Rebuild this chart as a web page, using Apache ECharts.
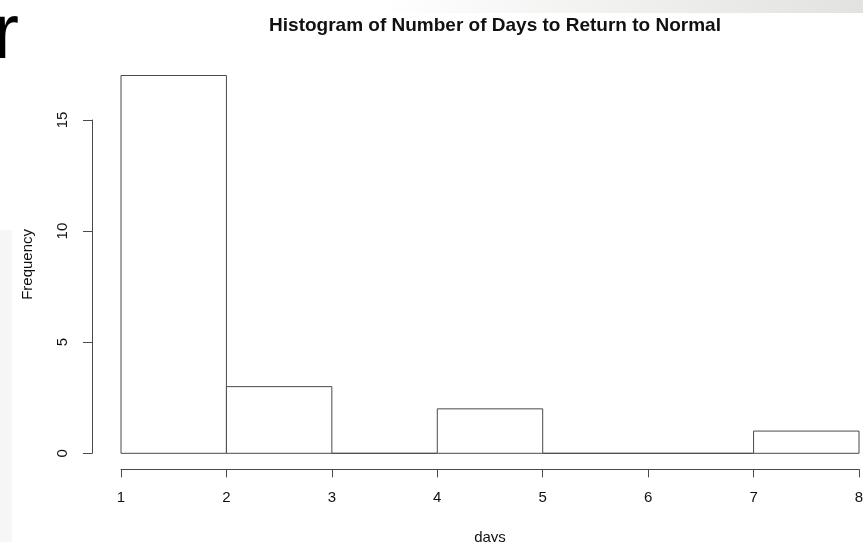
<!DOCTYPE html>
<html>
<head>
<meta charset="utf-8">
<title>Histogram of Number of Days to Return to Normal</title>
<script src="https://cdn.jsdelivr.net/npm/echarts@6/dist/echarts.min.js"></script>
<style>
  html, body { margin: 0; padding: 0; background: #fff; }
  #chart { width: 863px; height: 542px; }
</style>
</head>
<body>
<div id="chart"></div>
<script>
// histogram bins (break points) and counts per bin
const breaks = [1, 2, 3, 4, 5, 6, 7, 8];
const counts = [17, 3, 0, 2, 0, 0, 1];
const yTicks = [0, 5, 10, 15];

const bins = counts.map((c, i) => [breaks[i], breaks[i + 1], c]);

const font = '"Liberation Sans", Arial, Helvetica, sans-serif';
const ink = '#4a4a4a';

const chart = echarts.init(document.getElementById('chart'));

chart.setOption({
    backgroundColor: '#fff',
    animation: false,
    title: {
        text: 'Histogram of Number of Days to Return to Normal',
        left: 490,
        top: 11,
        textAlign: 'center',
        textStyle: { fontFamily: font, fontSize: 19, fontWeight: 'bold', color: '#111' }
    },
    graphic: [
        // bits of the slide behind the screenshot
        {
            type: 'rect', left: 380, top: 0, z: -10,
            shape: { width: 483, height: 13 },
            style: {
                fill: new echarts.graphic.LinearGradient(0, 0, 1, 0, [
                    { offset: 0, color: '#ffffff' },
                    { offset: 1, color: '#e2e2e0' }
                ])
            }
        },
        {
            type: 'rect', left: 0, top: 230, z: -10,
            shape: { width: 12, height: 312 },
            style: { fill: '#f6f6f6' }
        },
        {
            type: 'text', left: -7, top: -3, z: -5,
            style: { text: 'r', fontFamily: font, fontSize: 78, fill: '#000' }
        }
    ],
    grid: [
        // plotting region (bars + x axis)
        { left: 121, right: 4, top: 75.5, bottom: 88.7, outerBoundsMode: 'none' },
        // y axis, which only runs from 0 to 15
        { left: 92, width: 1, top: 120, bottom: 88.7, outerBoundsMode: 'none' }
    ],
    xAxis: [
        {
            gridIndex: 0,
            type: 'value',
            min: 1,
            max: 8,
            interval: 1,
            offset: 16,
            name: 'days',
            nameLocation: 'middle',
            nameGap: 61,
            nameTextStyle: { fontFamily: font, fontSize: 15, color: '#111' },
            axisLine: { show: true, onZero: false, lineStyle: { color: ink, width: 1 } },
            axisTick: { show: true, length: 8, lineStyle: { color: ink } },
            axisLabel: { margin: 21, fontFamily: font, fontSize: 15, color: '#111' },
            splitLine: { show: false }
        },
        {
            gridIndex: 1,
            type: 'value',
            show: false
        }
    ],
    yAxis: [
        {
            gridIndex: 0,
            type: 'value',
            min: 0,
            max: 17,
            name: 'Frequency',
            nameLocation: 'middle',
            nameGap: 86,
            nameTextStyle: { fontFamily: font, fontSize: 15, color: '#111' },
            axisLine: { show: false },
            axisTick: { show: false },
            axisLabel: { show: false },
            splitLine: { show: false }
        },
        {
            gridIndex: 1,
            type: 'value',
            min: 0,
            max: 15,
            interval: 5,
            data: yTicks,
            axisLine: { show: true, lineStyle: { color: ink, width: 1 } },
            axisTick: { show: true, length: 9, lineStyle: { color: ink } },
            axisLabel: { rotate: 90, margin: 22, fontFamily: font, fontSize: 15, color: '#111' },
            splitLine: { show: false }
        }
    ],
    series: [
        {
            type: 'custom',
            xAxisIndex: 0,
            yAxisIndex: 0,
            data: bins,
            encode: { x: [0, 1], y: 2 },
            renderItem: function (params, api) {
                const topLeft = api.coord([api.value(0), api.value(2)]);
                const bottomRight = api.coord([api.value(1), 0]);
                return {
                    type: 'rect',
                    shape: {
                        x: topLeft[0],
                        y: topLeft[1],
                        width: bottomRight[0] - topLeft[0],
                        height: bottomRight[1] - topLeft[1]
                    },
                    style: { fill: '#fff', stroke: ink, lineWidth: 1 }
                };
            }
        }
    ]
});
</script>
</body>
</html>
